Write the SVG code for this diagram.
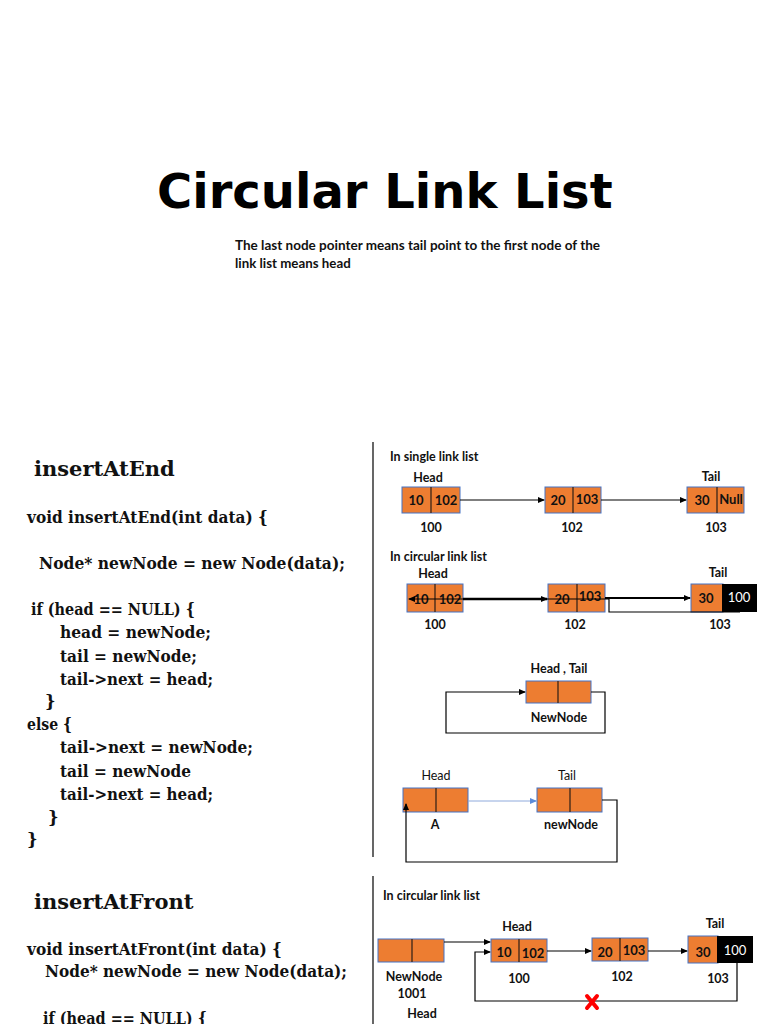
<svg xmlns="http://www.w3.org/2000/svg" width="768" height="1024" viewBox="0 0 768 1024">
<style>
.title{font-family:"DejaVu Sans",Verdana,sans-serif;font-weight:bold;font-size:48px;fill:#000}
.sub{font-family:Lato,"Liberation Sans",sans-serif;font-weight:bold;font-size:13.3px;fill:#111}
.code{font-family:"DejaVu Serif","Liberation Serif",serif;font-weight:bold;font-size:16.5px;fill:#111}
.h{font-family:"DejaVu Serif","Liberation Serif",serif;font-weight:bold;font-size:21px;fill:#111}
.lb{font-family:Lato,"Liberation Sans",sans-serif;font-weight:bold;font-size:12.5px;fill:#111}
.lr{font-family:Lato,"Liberation Sans",sans-serif;font-size:12.5px;fill:#111}
.v{font-family:Lato,"Liberation Sans",sans-serif;font-weight:bold;font-size:13px;fill:#111;text-anchor:middle}
.w{font-family:Lato,"Liberation Sans",sans-serif;font-size:13px;fill:#fff;text-anchor:middle}
.c{text-anchor:middle}
.n{fill:#ED7D31;stroke:#4472C4;stroke-width:1}
.blk{fill:#000}
.d{stroke:#3a2618;stroke-width:1.3}
.ln{fill:none;stroke:#000;stroke-width:1.2}
.sep{stroke:#000;stroke-width:1.2}
</style>
<defs>
<marker id="ah" markerWidth="7" markerHeight="6" refX="6" refY="3" orient="auto" markerUnits="userSpaceOnUse"><path d="M0,0 L7,3 L0,6 Z" fill="#000"/></marker>
<marker id="ab" markerWidth="7" markerHeight="6" refX="6" refY="3" orient="auto" markerUnits="userSpaceOnUse"><path d="M0,0 L7,3 L0,6 Z" fill="#5B8BD9"/></marker>
</defs>
<rect width="768" height="1024" fill="#fff"/>

<g id="title">
<text class="title" x="157" y="208">Circular Link List</text>
<text class="sub" x="235" y="250" textLength="365" lengthAdjust="spacingAndGlyphs">The last node pointer means tail point to the first node of the</text>
<text class="sub" x="235" y="268">link list means head</text>
</g>

<g id="code-end">
<text class="h" x="34" y="476">insertAtEnd</text>
<text class="code" x="27" y="523" textLength="241" lengthAdjust="spacingAndGlyphs">void insertAtEnd(int data) {</text>
<text class="code" x="39" y="569" textLength="306" lengthAdjust="spacingAndGlyphs">Node* newNode = new Node(data);</text>
<text class="code" x="31" y="615" textLength="164" lengthAdjust="spacingAndGlyphs">if (head == NULL) {</text>
<text class="code" x="60" y="638" textLength="151" lengthAdjust="spacingAndGlyphs">head = newNode;</text>
<text class="code" x="60" y="662" textLength="137" lengthAdjust="spacingAndGlyphs">tail = newNode;</text>
<text class="code" x="60" y="685" textLength="153" lengthAdjust="spacingAndGlyphs">tail-&gt;next = head;</text>
<text class="code" x="45" y="707">}</text>
<text class="code" x="27" y="730" textLength="45" lengthAdjust="spacingAndGlyphs">else {</text>
<text class="code" x="60" y="753" textLength="193" lengthAdjust="spacingAndGlyphs">tail-&gt;next = newNode;</text>
<text class="code" x="60" y="777" textLength="131" lengthAdjust="spacingAndGlyphs">tail = newNode</text>
<text class="code" x="60" y="800" textLength="153" lengthAdjust="spacingAndGlyphs">tail-&gt;next = head;</text>
<text class="code" x="48" y="823">}</text>
<text class="code" x="27" y="845">}</text>
</g>

<g id="code-front">
<text class="h" x="34" y="909">insertAtFront</text>
<text class="code" x="27" y="955" textLength="255" lengthAdjust="spacingAndGlyphs">void insertAtFront(int data) {</text>
<text class="code" x="45" y="977" textLength="302" lengthAdjust="spacingAndGlyphs">Node* newNode = new Node(data);</text>
<text class="code" x="43" y="1024" textLength="164" lengthAdjust="spacingAndGlyphs">if (head == NULL) {</text>
</g>

<g id="separators">
<line class="sep" x1="373" y1="442" x2="373" y2="857"/>
<line class="sep" x1="373" y1="876" x2="373" y2="1024"/>
</g>

<g id="single-list-label"><text class="lb" x="390" y="461">In single link list</text></g>
<g id="s1">
<rect class="n" x="402" y="487" width="58" height="26"/><line class="d" x1="431" y1="487" x2="431" y2="513"/>
<text class="v" x="416" y="505">10</text><text class="v" x="446" y="505">102</text>
<text class="lb c" x="428" y="482">Head</text><text class="lb c" x="431" y="532">100</text>
</g>
<g id="s2">
<rect class="n" x="545" y="487" width="56" height="26"/><line class="d" x1="573" y1="487" x2="573" y2="513"/>
<text class="v" x="558" y="505">20</text><text class="v" x="587" y="504">103</text>
<text class="lb c" x="572" y="532">102</text>
</g>
<g id="s3">
<rect class="n" x="687" y="487" width="57" height="26"/><line class="d" x1="717" y1="487" x2="717" y2="513"/>
<text class="v" x="702" y="505">30</text><text class="v" x="731" y="504">Null</text>
<text class="lb c" x="711" y="481">Tail</text><text class="lb c" x="716" y="532">103</text>
</g>

<g id="circ-label"><text class="lb" x="390" y="561">In circular link list</text></g>
<g id="c1">
<rect class="n" x="407" y="584" width="56" height="28"/><line class="d" x1="435" y1="584" x2="435" y2="612"/>
<text class="v" x="421" y="604">10</text><text class="v" x="450" y="604">102</text>
<text class="lb c" x="433" y="578">Head</text><text class="lb c" x="435" y="629">100</text>
</g>
<g id="c2">
<rect class="n" x="548" y="584" width="57" height="28"/><line class="d" x1="577" y1="584" x2="577" y2="612"/>
<text class="v" x="562" y="604">20</text><text class="v" x="590" y="601">103</text>
<text class="lb c" x="575" y="629">102</text>
</g>
<g id="c3">
<rect class="n" x="691" y="584" width="32" height="28"/><rect class="blk" x="722" y="584" width="35" height="28"/>
<text class="v" x="706" y="603">30</text><text class="w" x="739" y="602">100</text>
<text class="lb c" x="718" y="577">Tail</text><text class="lb c" x="720" y="629">103</text>
</g>

<g id="n-single">
<rect class="n" x="526" y="681" width="65" height="22"/><line class="d" x1="558" y1="681" x2="558" y2="703"/>
<text class="lb c" x="559" y="673">Head , Tail</text>
<text class="lb c" x="559" y="722">NewNode</text>
</g>

<g id="nA">
<rect class="n" x="403" y="788" width="65" height="24"/><line class="d" x1="436" y1="788" x2="436" y2="812"/>
<text class="lr c" x="436" y="780">Head</text>
<text class="lb c" x="435" y="829">A</text>
</g>
<g id="nNew">
<rect class="n" x="537" y="788" width="65" height="24"/><line class="d" x1="570" y1="788" x2="570" y2="812"/>
<text class="lr c" x="567" y="780">Tail</text>
<text class="lb c" x="571" y="829">newNode</text>
</g>

<g id="front-label"><text class="lb" x="383" y="900">In circular link list</text></g>
<g id="f0">
<rect class="n" x="378" y="939" width="66" height="23"/><line class="d" x1="412" y1="939" x2="412" y2="962"/>
<text class="lb c" x="414" y="981">NewNode</text>
<text class="lb c" x="412" y="998">1001</text>
<text class="lb c" x="422" y="1018">Head</text>
</g>
<g id="f1">
<rect class="n" x="491" y="939" width="56" height="23"/><line class="d" x1="519" y1="939" x2="519" y2="962"/>
<text class="v" x="504" y="957">10</text><text class="v" x="533" y="958">102</text>
<text class="lb c" x="517" y="931">Head</text><text class="lb c" x="519" y="983">100</text>
</g>
<g id="f2">
<rect class="n" x="592" y="938" width="56" height="23"/><line class="d" x1="620" y1="938" x2="620" y2="961"/>
<text class="v" x="605" y="957">20</text><text class="v" x="634" y="955">103</text>
<text class="lb c" x="622" y="981">102</text>
</g>
<g id="f3">
<rect class="n" x="688" y="936" width="30" height="27"/><rect class="blk" x="717" y="936" width="36" height="27"/>
<text class="v" x="703" y="957">30</text><text class="w" x="735" y="955">100</text>
<text class="lb c" x="715" y="928">Tail</text><text class="lb c" x="718" y="983">103</text>
</g>

<g id="connectors">
<line class="ln" x1="460" y1="500" x2="544" y2="500" marker-end="url(#ah)"/>
<line class="ln" x1="601" y1="500" x2="686" y2="500" marker-end="url(#ah)"/>
<path class="ln" d="M740,612 H609 V599 H409" marker-end="url(#ah)"/>
<line x1="463" y1="599" x2="547" y2="599" stroke="#000" stroke-width="2.5" marker-end="url(#ah)"/>
<line x1="605" y1="598" x2="690" y2="598" stroke="#000" stroke-width="2" marker-end="url(#ah)"/>
<path class="ln" d="M591,692 H605 V733 H446 V692 H525" marker-end="url(#ah)"/>
<line x1="468" y1="801" x2="536" y2="801" stroke="#8FAADC" stroke-width="1" marker-end="url(#ab)"/>
<path class="ln" d="M602,800 H617 V862 H406 V804" marker-end="url(#ah)"/>
<line class="ln" x1="444" y1="942" x2="490" y2="942" marker-end="url(#ah)"/>
<line class="ln" x1="547" y1="951" x2="591" y2="951" marker-end="url(#ah)"/>
<line class="ln" x1="648" y1="951" x2="687" y2="951" marker-end="url(#ah)"/>
<path class="ln" d="M737,963 V1001 H475 V952 H490" marker-end="url(#ah)"/>
<g id="red-x" stroke="#FF0000" stroke-width="4" stroke-linecap="round">
<line x1="587" y1="996" x2="597" y2="1008"/><line x1="597" y1="996" x2="587" y2="1008"/>
</g>
</g>
</svg>
